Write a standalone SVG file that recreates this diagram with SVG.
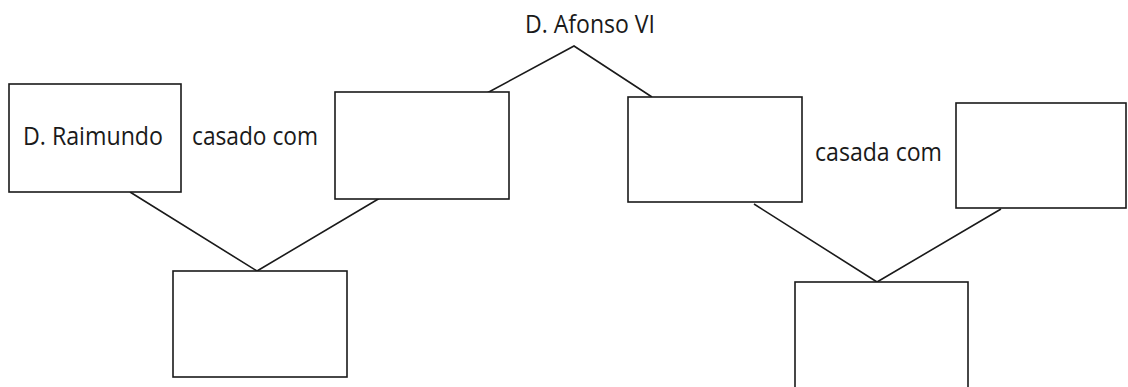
<svg xmlns="http://www.w3.org/2000/svg" width="1128" height="387" viewBox="0 0 1128 387">
<style>
.box{fill:#fff;stroke:#1a1a1a;stroke-width:1.6}
.ln{stroke:#1a1a1a;stroke-width:1.6;fill:none}
.t{font-family:"Open Sans","Noto Sans","Liberation Sans",sans-serif;font-size:25px;fill:#1a1a1a}
</style>
<rect width="1128" height="387" fill="#fff"/>
<g id="connectors">
<polyline class="ln" points="487,93 574,46 652,97"/>
<polyline class="ln" points="130,192 257,271 380,198"/>
<polyline class="ln" points="754,204 877,282 1001,209"/>
</g>
<g id="afonso"><text class="t" x="525" y="33" textLength="130" lengthAdjust="spacingAndGlyphs">D. Afonso VI</text></g>
<g id="raimundo"><rect class="box" x="9" y="84" width="172" height="108"/><text class="t" x="23" y="145" textLength="140" lengthAdjust="spacingAndGlyphs">D. Raimundo</text></g>
<g id="label-casado"><text class="t" x="192" y="145" textLength="126" lengthAdjust="spacingAndGlyphs">casado com</text></g>
<g id="box2"><rect class="box" x="335" y="92" width="174" height="107"/></g>
<g id="box3"><rect class="box" x="628" y="97" width="174" height="105"/></g>
<g id="label-casada"><text class="t" x="815" y="161" textLength="127" lengthAdjust="spacingAndGlyphs">casada com</text></g>
<g id="box4"><rect class="box" x="956" y="103" width="170" height="105"/></g>
<g id="box5"><rect class="box" x="173" y="271" width="174" height="106"/></g>
<g id="box6"><rect class="box" x="795" y="282" width="173" height="110"/></g>
</svg>
